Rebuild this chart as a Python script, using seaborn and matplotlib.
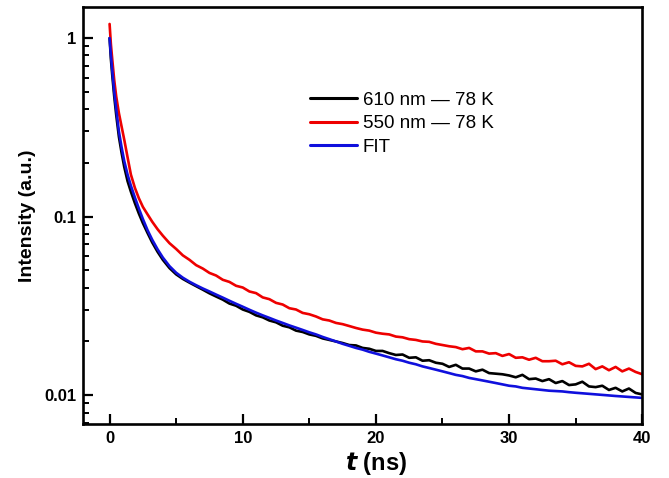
import matplotlib
matplotlib.use("Agg")
import matplotlib.pyplot as plt
from matplotlib.ticker import LogLocator, FixedLocator, NullFormatter, MultipleLocator
import seaborn as sns
import pandas as pd

# ---- data ----
time_ns = [0, 0.1, 0.2, 0.35, 0.5, 0.7, 0.9, 1.1, 1.35, 1.6, 1.9, 2.2, 2.5, 2.85, 3.2, 3.6, 4.0,
           4.5, 5.0, 5.5, 6.0, 6.5, 7.0, 7.5, 8.0, 8.5, 9.0, 9.5, 10.0,
           10.5, 11.0, 11.5, 12.0, 12.5, 13.0, 13.5, 14.0, 14.5, 15.0,
           15.5, 16.0, 16.5, 17.0, 17.5, 18.0, 18.5, 19.0, 19.5, 20.0,
           20.5, 21.0, 21.5, 22.0, 22.5, 23.0, 23.5, 24.0, 24.5, 25.0,
           25.5, 26.0, 26.5, 27.0, 27.5, 28.0, 28.5, 29.0, 29.5, 30.0,
           30.5, 31.0, 31.5, 32.0, 32.5, 33.0, 33.5, 34.0, 34.5, 35.0,
           35.5, 36.0, 36.5, 37.0, 37.5, 38.0, 38.5, 39.0, 39.5, 40.0]

i_610 = [1.00, 0.76, 0.62, 0.47, 0.37, 0.28, 0.228, 0.19, 0.158, 0.138, 0.119, 0.104, 0.092, 0.081, 0.0717, 0.0636, 0.0573,
         0.0515, 0.0475, 0.0448, 0.0427, 0.0408, 0.0390, 0.0372, 0.0357, 0.0343, 0.0326, 0.0317, 0.0302,
         0.0293, 0.0280, 0.0273, 0.0262, 0.0256, 0.0245, 0.0240, 0.0230, 0.0226, 0.0219,
         0.0215, 0.0208, 0.0204, 0.0200, 0.0196, 0.0191, 0.0190, 0.0184, 0.0182, 0.0177,
         0.0177, 0.0172, 0.0168, 0.0169, 0.0162, 0.0163, 0.0156, 0.0157, 0.0152, 0.0150,
         0.0144, 0.0148, 0.0141, 0.0141, 0.0136, 0.0139, 0.0133, 0.0132, 0.0131, 0.0129,
         0.0126, 0.0130, 0.0123, 0.0124, 0.0120, 0.0123, 0.0117, 0.0120, 0.0114, 0.0115,
         0.0119, 0.0112, 0.0111, 0.0113, 0.0107, 0.0110, 0.0105, 0.0109, 0.0103, 0.0101]

i_550 = [1.20, 0.92, 0.76, 0.58, 0.47, 0.38, 0.32, 0.27, 0.215, 0.172, 0.145, 0.1267, 0.1134, 0.103, 0.0937, 0.0851, 0.0782,
         0.0710, 0.0659, 0.0607, 0.0573, 0.0535, 0.0512, 0.0484, 0.0468, 0.0443, 0.0431, 0.0410, 0.0401,
         0.0381, 0.0373, 0.0353, 0.0345, 0.0329, 0.0322, 0.0307, 0.0302, 0.0289, 0.0284,
         0.0276, 0.0266, 0.0262, 0.0254, 0.0250, 0.0244, 0.0238, 0.0233, 0.0230, 0.0224,
         0.0221, 0.0219, 0.0213, 0.0211, 0.0206, 0.0204, 0.0200, 0.0199, 0.0194, 0.0191,
         0.0188, 0.0186, 0.0181, 0.0184, 0.0176, 0.0176, 0.0171, 0.0172, 0.0166, 0.0170,
         0.0162, 0.0163, 0.0158, 0.0162, 0.0155, 0.0155, 0.0156, 0.0149, 0.0153, 0.0146,
         0.0145, 0.0150, 0.0140, 0.0145, 0.0138, 0.0144, 0.0136, 0.0141, 0.0135, 0.0131]

i_fit = [1.00, 0.80, 0.66, 0.50, 0.40, 0.30, 0.245, 0.205, 0.172, 0.149, 0.128, 0.111, 0.097, 0.084, 0.0743, 0.0657, 0.0590,
         0.0528, 0.0485, 0.0455, 0.0432, 0.0413, 0.0396, 0.0381, 0.0366, 0.0352, 0.0338, 0.0325, 0.0313,
         0.0301, 0.0290, 0.0280, 0.0271, 0.0262, 0.0254, 0.0246, 0.0239, 0.0232, 0.0225,
         0.0219, 0.0212, 0.0206, 0.0200, 0.0194, 0.0189, 0.0184, 0.0180, 0.0175, 0.0171,
         0.0167, 0.0163, 0.0159, 0.0156, 0.0152, 0.0149, 0.0145, 0.0142, 0.0139, 0.0136,
         0.0133, 0.0130, 0.0128, 0.0125, 0.0123, 0.0121, 0.0119, 0.0117, 0.0115, 0.0113,
         0.0112, 0.0110, 0.0109, 0.0108, 0.0107, 0.0106, 0.01055, 0.0105, 0.0104, 0.01032,
         0.01025, 0.01018, 0.01011, 0.01004, 0.00997, 0.0099, 0.00984, 0.00978, 0.00972, 0.00966]

series_labels = ["610 nm \u2014 78 K", "550 nm \u2014 78 K", "FIT"]
series_colors = ["#000000", "#ee0000", "#1010dd"]
x_ticks = [0, 10, 20, 30, 40]
y_ticks = [0.01, 0.1, 1]
y_tick_labels = ["0.01", "0.1", "1"]

df = pd.concat([
    pd.DataFrame({"t": time_ns, "I": i_610, "s": series_labels[0]}),
    pd.DataFrame({"t": time_ns, "I": i_550, "s": series_labels[1]}),
    pd.DataFrame({"t": time_ns, "I": i_fit, "s": series_labels[2]}),
])

sns.set_style("ticks")
plt.rcParams["font.family"] = ["Liberation Sans", "DejaVu Sans"]
plt.rcParams["text.color"] = "black"
plt.rcParams["axes.labelcolor"] = "black"
plt.rcParams["xtick.color"] = "black"
plt.rcParams["ytick.color"] = "black"

fig = plt.figure(figsize=(6.69, 4.78), dpi=100)
ax = fig.add_axes([0.124, 0.113, 0.836, 0.872])

sns.lineplot(data=df, x="t", y="I", hue="s", hue_order=series_labels,
             palette=dict(zip(series_labels, series_colors)), linewidth=1.9,
             ax=ax, legend=True, estimator=None, sort=False)

ax.set_yscale("log")
ax.set_xlim(-2, 40)
ax.set_ylim(0.0069, 1.49)

ax.set_xticks(x_ticks)
ax.set_xticklabels([str(v) for v in x_ticks])
ax.xaxis.set_minor_locator(MultipleLocator(5))
ax.yaxis.set_major_locator(FixedLocator(y_ticks))
ax.set_yticklabels(y_tick_labels)
ax.yaxis.set_minor_locator(LogLocator(base=10, subs=[2, 3, 4, 5, 6, 7, 8, 9]))
ax.yaxis.set_minor_formatter(NullFormatter())

ax.tick_params(axis="both", which="major", direction="in", length=7, width=1.6,
               labelsize=12, pad=5, top=False, right=False, colors="black")
ax.tick_params(axis="both", which="minor", direction="in", length=4.5, width=1.4,
               top=False, right=False, colors="black")
for lab in ax.get_xticklabels() + ax.get_yticklabels():
    lab.set_fontweight("bold")

for sp in ax.spines.values():
    sp.set_linewidth(1.9)
    sp.set_color("black")

ax.set_xlabel("$\\mathbfit{t}$ (ns)", fontsize=17, fontweight="bold", color="black")
ax.xaxis.set_label_coords(0.524, -0.062)
ax.set_ylabel("Intensity (a.u.)", fontsize=14, fontweight="bold", labelpad=6, color="black")

leg = ax.legend(loc="upper left", bbox_to_anchor=(0.393, 0.815), frameon=False,
                fontsize=13.5, handlelength=2.5, handletextpad=0.3, labelspacing=0.33,
                borderaxespad=0)
for line in leg.get_lines():
    line.set_linewidth(2.2)
for txt in leg.get_texts():
    txt.set_color("black")

fig.savefig("out.png", dpi=100)
